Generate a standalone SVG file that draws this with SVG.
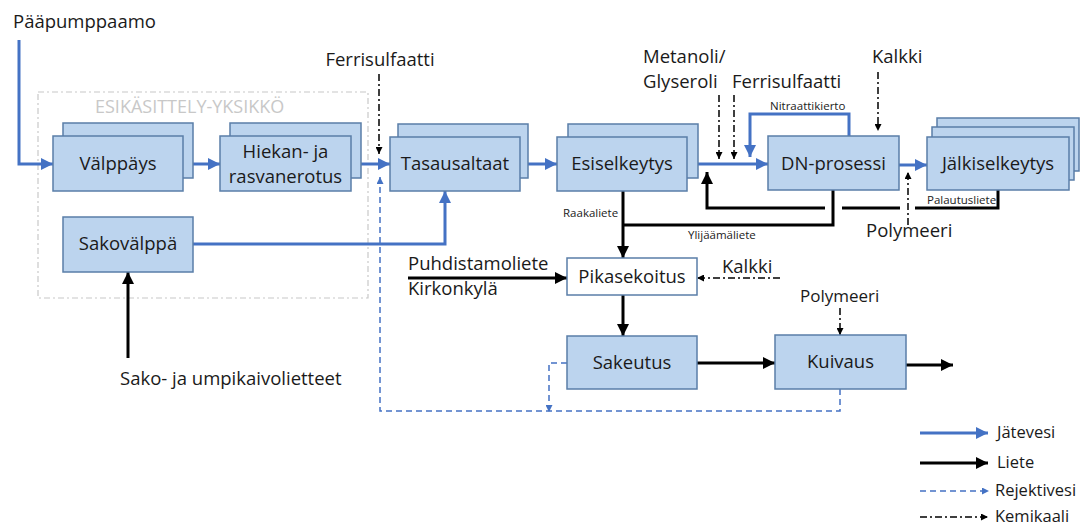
<svg xmlns="http://www.w3.org/2000/svg" width="1081" height="525" viewBox="0 0 1081 525">
<style>
text{font-family:"Open Sans","Liberation Sans",sans-serif;fill:#1a1a1a}
.n{font-size:18.5px;text-anchor:middle}
.l{font-size:18.5px}
.s{font-size:11.5px;fill:#222}
.g{font-size:18px;fill:#c8c8c8}
.lg{font-size:16.5px}
.box{fill:#bcd4ee;stroke:#5a7ea8;stroke-width:1.5}
.wbox{fill:#fff;stroke:#5a7ea8;stroke-width:1.5}
.b{fill:none;stroke:#4472c4;stroke-width:3}
.k{fill:none;stroke:#000;stroke-width:3}
.r{fill:none;stroke:#4472c4;stroke-width:1.5;stroke-dasharray:6 4}
.c{fill:none;stroke:#000;stroke-width:1.5;stroke-dasharray:7 3 2 3}
.grp{fill:none;stroke:#c8c8c8;stroke-width:1.2;stroke-dasharray:6 3 2 3}
</style>
<defs>
<marker id="ab" markerUnits="userSpaceOnUse" markerWidth="12" markerHeight="12" viewBox="0 0 12 12" refX="12" refY="6" orient="auto"><path d="M0,0 L12,6 L0,12 Z" fill="#4472c4"/></marker>
<marker id="ak" markerUnits="userSpaceOnUse" markerWidth="12" markerHeight="12" viewBox="0 0 12 12" refX="12" refY="6" orient="auto"><path d="M0,0 L12,6 L0,12 Z" fill="#000"/></marker>
<marker id="ar" markerUnits="userSpaceOnUse" markerWidth="7" markerHeight="7" viewBox="0 0 7 7" refX="7" refY="3.5" orient="auto"><path d="M0,0 L7,3.5 L0,7 Z" fill="#4472c4"/></marker>
<marker id="ac" markerUnits="userSpaceOnUse" markerWidth="7" markerHeight="7" viewBox="0 0 7 7" refX="7" refY="3.5" orient="auto"><path d="M0,0 L7,3.5 L0,7 Z" fill="#000"/></marker>
</defs>

<g id="esikasittely">
<rect class="grp" x="38" y="92" width="330" height="206"/>
<text class="g" x="95" y="113">ESIKÄSITTELY-YKSIKKÖ</text>
</g>

<g id="connectors">
<path class="b" d="M19,40 V164 H53" marker-end="url(#ab)"/>
<path class="b" d="M183,164 H220" marker-end="url(#ab)"/>
<path class="b" d="M351,164 H390" marker-end="url(#ab)"/>
<path class="b" d="M520,164 H557" marker-end="url(#ab)"/>
<path class="b" d="M687,164 H768" marker-end="url(#ab)"/>
<path class="b" d="M899,165 H927" marker-end="url(#ab)"/>
<path class="b" d="M849,136 V114 H750 V157" marker-end="url(#ab)"/>
<path class="b" d="M193,244 H445 V191" marker-end="url(#ab)"/>
<path class="k" d="M998,190 V208 H915"/>
<path class="k" d="M900,208 H842"/>
<path class="k" d="M825,208 H707 V172" marker-end="url(#ak)"/>
<path class="k" d="M833,190 V225 H623"/>
<path class="k" d="M623,191 V258" marker-end="url(#ak)"/>
<path class="k" d="M128,358 V272" marker-end="url(#ak)"/>
<path class="k" d="M408,278 H567" marker-end="url(#ak)"/>
<path class="k" d="M623,295 V336" marker-end="url(#ak)"/>
<path class="k" d="M697,363 H775" marker-end="url(#ak)"/>
<path class="k" d="M906,365 H953" marker-end="url(#ak)"/>
<path class="r" d="M840,389 V411 H380 V177" marker-end="url(#ar)"/>
<path class="r" d="M567,363 H549 V412" marker-end="url(#ar)"/>
<path class="c" d="M379,74 V154" marker-end="url(#ac)"/>
<path class="c" d="M719,95 V159" marker-end="url(#ac)"/>
<path class="c" d="M734,95 V159" marker-end="url(#ac)"/>
<path class="c" d="M878,72 V131" marker-end="url(#ac)"/>
<path class="c" d="M908,225 V172" marker-end="url(#ac)"/>
<path class="c" d="M780,278 H697" marker-end="url(#ac)"/>
<path class="c" d="M840,308 V335" marker-end="url(#ac)"/>
</g>

<g id="valppays">
<rect class="box" x="63" y="123" width="130" height="55"/>
<rect class="box" x="53" y="136" width="130" height="55"/>
<text class="n" x="118" y="170">Välppäys</text>
</g>
<g id="hiekan">
<rect class="box" x="230" y="123" width="131" height="55"/>
<rect class="box" x="220" y="136" width="131" height="55"/>
<text class="n" x="285.5" y="158">Hiekan- ja</text>
<text class="n" x="285.5" y="183">rasvanerotus</text>
</g>
<g id="sakovalppa">
<rect class="box" x="63" y="217" width="130" height="55"/>
<text class="n" x="128" y="250">Sakovälppä</text>
</g>
<g id="tasausaltaat">
<rect class="box" x="398" y="124" width="130" height="54"/>
<rect class="box" x="390" y="137" width="130" height="54"/>
<text class="n" x="455" y="170">Tasausaltaat</text>
</g>
<g id="esiselkeytys">
<rect class="box" x="568" y="124" width="130" height="54"/>
<rect class="box" x="557" y="137" width="130" height="54"/>
<text class="n" x="622" y="170">Esiselkeytys</text>
</g>
<g id="dn">
<rect class="box" x="768" y="136" width="131" height="54"/>
<text class="n" x="833.5" y="170">DN-prosessi</text>
</g>
<g id="jalkiselkeytys">
<rect class="box" x="937" y="118" width="142" height="53"/>
<rect class="box" x="932" y="127" width="142" height="53"/>
<rect class="box" x="927" y="137" width="142" height="53"/>
<text class="n" x="998" y="170">Jälkiselkeytys</text>
</g>
<g id="pikasekoitus">
<rect class="wbox" x="567" y="258" width="130" height="37"/>
<text class="n" x="632" y="283">Pikasekoitus</text>
</g>
<g id="sakeutus">
<rect class="box" x="567" y="336" width="130" height="53"/>
<text class="n" x="632" y="369">Sakeutus</text>
</g>
<g id="kuivaus">
<rect class="box" x="775" y="335" width="131" height="54"/>
<text class="n" x="840.5" y="368">Kuivaus</text>
</g>

<g id="labels">
<text class="l" x="13" y="28">Pääpumppaamo</text>
<text class="l" x="380" y="66" text-anchor="middle">Ferrisulfaatti</text>
<text class="l" x="643" y="63">Metanoli/</text>
<text class="l" x="643" y="88">Glyseroli</text>
<text class="l" x="732" y="88">Ferrisulfaatti</text>
<text class="l" x="872" y="63">Kalkki</text>
<text class="s" x="770" y="110">Nitraattikierto</text>
<text class="s" x="563" y="217">Raakaliete</text>
<text class="s" x="688" y="239">Ylijäämäliete</text>
<text class="s" x="927" y="204">Palautusliete</text>
<text class="l" x="866" y="237">Polymeeri</text>
<text class="l" x="408" y="270">Puhdistamoliete</text>
<text class="l" x="408" y="295">Kirkonkylä</text>
<text class="l" x="722" y="273">Kalkki</text>
<text class="l" x="800" y="302" style="font-size:17px">Polymeeri</text>
<text class="l" x="120" y="385">Sako- ja umpikaivolietteet</text>
</g>

<g id="legend">
<path class="b" d="M920,433 H988" marker-end="url(#ab)"/>
<text class="lg" x="997" y="438">Jätevesi</text>
<path class="k" d="M920,463 H988" marker-end="url(#ak)"/>
<text class="lg" x="997" y="468">Liete</text>
<path class="r" d="M920,491 H989" marker-end="url(#ar)"/>
<text class="lg" x="995" y="496">Rejektivesi</text>
<path class="c" d="M920,517 H988" marker-end="url(#ac)"/>
<text class="lg" x="995" y="522">Kemikaali</text>
</g>
</svg>
